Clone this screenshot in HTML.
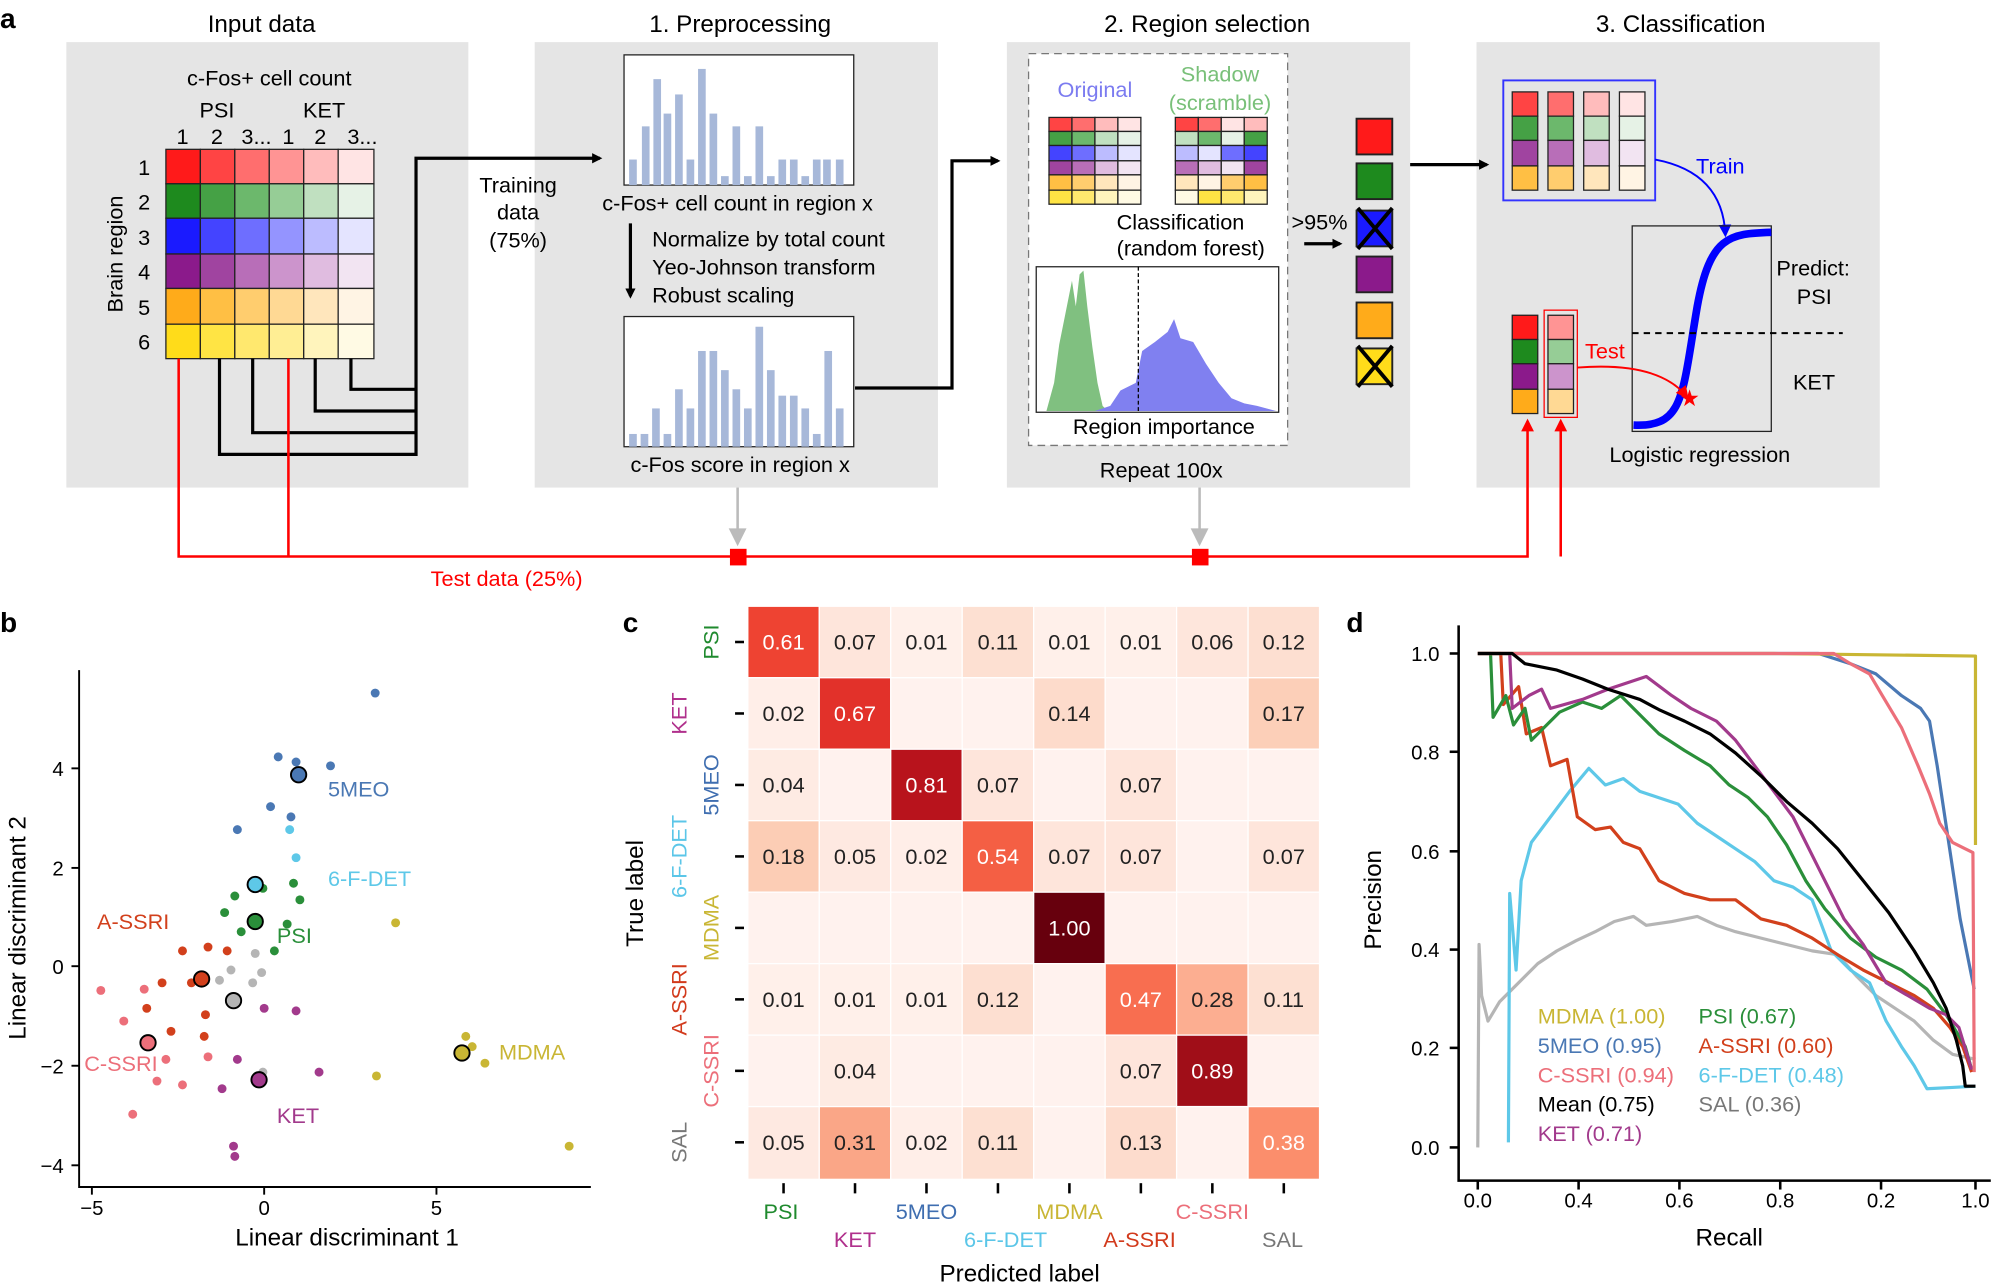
<!DOCTYPE html>
<html><head><meta charset="utf-8"><style>
html,body{margin:0;padding:0;background:#fff;}
svg{display:block;font-family:"Liberation Sans",Arial,sans-serif;}
</style></head><body>
<svg width="2001" height="1284" viewBox="0 0 1568 1006" preserveAspectRatio="none" xmlns="http://www.w3.org/2000/svg">
<defs>
<marker id="ab" markerWidth="8" markerHeight="8" refX="6" refY="4" orient="auto" markerUnits="userSpaceOnUse"><path d="M0,0 L8,4 L0,8 z" fill="#000"/></marker>
<marker id="ar" markerWidth="10" markerHeight="10" refX="8" refY="5" orient="auto" markerUnits="userSpaceOnUse"><path d="M0,0 L10,5 L0,10 z" fill="#f00"/></marker>
<marker id="abl" markerWidth="10" markerHeight="10" refX="8" refY="5" orient="auto" markerUnits="userSpaceOnUse"><path d="M0,0 L10,5 L0,10 z" fill="#00f"/></marker>
</defs>
<!-- ===== Panel a ===== -->
<text x="0" y="22" font-size="22" font-weight="bold">a</text>
<rect x="52" y="33" width="315" height="349" fill="#e5e5e5"/>
<rect x="419" y="33" width="316" height="349" fill="#e5e5e5"/>
<rect x="789" y="33" width="316" height="349" fill="#e5e5e5"/>
<rect x="1157" y="33" width="316" height="349" fill="#e5e5e5"/>
<g font-size="19" text-anchor="middle">
<text x="205" y="25">Input data</text>
<text x="580" y="25">1. Preprocessing</text>
<text x="946" y="25">2. Region selection</text>
<text x="1317" y="25">3. Classification</text>
</g>
<g font-size="17" text-anchor="middle">
<text x="211" y="67">c-Fos+ cell count</text>
<text x="170" y="92">PSI</text><text x="254" y="92">KET</text>
<text x="143" y="113">1</text><text x="170" y="113">2</text><text x="201" y="113">3...</text><text x="226" y="113">1</text><text x="251" y="113">2</text><text x="284" y="113">3...</text>
</g>
<g font-size="17" text-anchor="middle">
<text x="113" y="137">1</text><text x="113" y="164">2</text><text x="113" y="192">3</text><text x="113" y="219">4</text><text x="113" y="247">5</text><text x="113" y="274">6</text>
</g>
<text transform="translate(96,199) rotate(-90)" font-size="17" text-anchor="middle">Brain region</text>
<g stroke="#222" stroke-width="1">
<rect x="130" y="117" width="27" height="27" fill="#ff1a1a"/><rect x="157" y="117" width="27" height="27" fill="#ff4444"/><rect x="184" y="117" width="27" height="27" fill="#ff6e6e"/><rect x="211" y="117" width="27" height="27" fill="#ff9494"/><rect x="238" y="117" width="27" height="27" fill="#ffbcbc"/><rect x="265" y="117" width="28" height="27" fill="#ffe4e4"/>
<rect x="130" y="144" width="27" height="27" fill="#1e8a1e"/><rect x="157" y="144" width="27" height="27" fill="#45a145"/><rect x="184" y="144" width="27" height="27" fill="#6cb86c"/><rect x="211" y="144" width="27" height="27" fill="#96cd96"/><rect x="238" y="144" width="27" height="27" fill="#c0e0c0"/><rect x="265" y="144" width="28" height="27" fill="#e6f2e6"/>
<rect x="130" y="171" width="27" height="28" fill="#1a1aff"/><rect x="157" y="171" width="27" height="28" fill="#4444ff"/><rect x="184" y="171" width="27" height="28" fill="#6e6eff"/><rect x="211" y="171" width="27" height="28" fill="#9494ff"/><rect x="238" y="171" width="27" height="28" fill="#bcbcff"/><rect x="265" y="171" width="28" height="28" fill="#e4e4ff"/>
<rect x="130" y="199" width="27" height="27" fill="#8b1a8b"/><rect x="157" y="199" width="27" height="27" fill="#a044a0"/><rect x="184" y="199" width="27" height="27" fill="#b86eb8"/><rect x="211" y="199" width="27" height="27" fill="#cc94cc"/><rect x="238" y="199" width="27" height="27" fill="#e0bce0"/><rect x="265" y="199" width="28" height="27" fill="#f2e4f2"/>
<rect x="130" y="226" width="27" height="28" fill="#ffab1a"/><rect x="157" y="226" width="27" height="28" fill="#ffbf44"/><rect x="184" y="226" width="27" height="28" fill="#ffcd6e"/><rect x="211" y="226" width="27" height="28" fill="#ffd994"/><rect x="238" y="226" width="27" height="28" fill="#ffe6bc"/><rect x="265" y="226" width="28" height="28" fill="#fff4e4"/>
<rect x="130" y="254" width="27" height="27" fill="#ffdc1a"/><rect x="157" y="254" width="27" height="27" fill="#ffe444"/><rect x="184" y="254" width="27" height="27" fill="#ffe86e"/><rect x="211" y="254" width="27" height="27" fill="#ffee94"/><rect x="238" y="254" width="27" height="27" fill="#fff4bc"/><rect x="265" y="254" width="28" height="27" fill="#fffae4"/>
</g>
<g fill="none" stroke="#000" stroke-width="2.5">
<polyline points="172,281 172,356 326,356 326,124 470,124" marker-end="url(#ab)"/>
<polyline points="198,281 198,339 326,339"/>
<polyline points="247,281 247,322 326,322"/>
<polyline points="275,281 275,305 326,305"/>
<polyline points="670,304 746,304 746,126 782,126" marker-end="url(#ab)"/>
<line x1="494" y1="175" x2="494" y2="232" marker-end="url(#ab)"/>
<line x1="858" y1="158" x2="858" y2="197" marker-end="url(#ab)"/>
<line x1="1022" y1="191" x2="1050" y2="191" marker-end="url(#ab)"/>
<line x1="1105" y1="129" x2="1165" y2="129" marker-end="url(#ab)"/>
</g>
<g font-size="17" text-anchor="middle">
<text x="406" y="151">Training</text><text x="406" y="172">data</text><text x="406" y="194">(75%)</text>
</g>
<rect x="489" y="43" width="180" height="102" fill="#fff" stroke="#222"/>
<g fill="#a7b8d9">
<rect x="493" y="125" width="6" height="20"/><rect x="503" y="99" width="6" height="46"/><rect x="512" y="62" width="6" height="83"/><rect x="520" y="89" width="6" height="56"/><rect x="529" y="74" width="6" height="71"/><rect x="538" y="125" width="6" height="20"/><rect x="547" y="54" width="6" height="91"/><rect x="556" y="89" width="6" height="56"/><rect x="565" y="138" width="6" height="7"/><rect x="574" y="99" width="6" height="46"/><rect x="583" y="138" width="6" height="7"/><rect x="592" y="99" width="6" height="46"/><rect x="601" y="138" width="6" height="7"/><rect x="610" y="125" width="6" height="20"/><rect x="619" y="125" width="6" height="20"/><rect x="628" y="138" width="6" height="7"/><rect x="637" y="125" width="6" height="20"/><rect x="645" y="125" width="6" height="20"/><rect x="655" y="125" width="6" height="20"/>
</g>
<text x="578" y="165" font-size="17" text-anchor="middle">c-Fos+ cell count in region x</text>
<g font-size="17"><text x="511" y="193">Normalize by total count</text><text x="511" y="215">Yeo-Johnson transform</text><text x="511" y="237">Robust scaling</text></g>
<rect x="489" y="248" width="180" height="102" fill="#fff" stroke="#222"/>
<g fill="#a7b8d9">
<rect x="493" y="340" width="6" height="10"/><rect x="502" y="340" width="6" height="10"/><rect x="511" y="320" width="6" height="30"/><rect x="520" y="340" width="6" height="10"/><rect x="529" y="305" width="6" height="45"/><rect x="538" y="320" width="6" height="30"/><rect x="547" y="275" width="6" height="75"/><rect x="556" y="275" width="6" height="75"/><rect x="565" y="290" width="6" height="60"/><rect x="574" y="305" width="6" height="45"/><rect x="583" y="320" width="6" height="30"/><rect x="592" y="256" width="6" height="94"/><rect x="601" y="290" width="6" height="60"/><rect x="610" y="310" width="6" height="40"/><rect x="619" y="310" width="6" height="40"/><rect x="628" y="320" width="6" height="30"/><rect x="637" y="340" width="6" height="10"/><rect x="646" y="275" width="6" height="75"/><rect x="655" y="320" width="6" height="30"/>
</g>
<text x="580" y="370" font-size="17" text-anchor="middle">c-Fos score in region x</text>
<rect x="806" y="42" width="203" height="307" fill="#fff" stroke="#777" stroke-dasharray="6,4"/>
<text x="858" y="76" font-size="17" fill="#7b7bf0" text-anchor="middle">Original</text>
<text x="956" y="64" font-size="17" fill="#79c079" text-anchor="middle">Shadow</text>
<text x="956" y="86" font-size="17" fill="#79c079" text-anchor="middle">(scramble)</text>
<g stroke="#222" stroke-width="1">
<rect x="822" y="92" width="18" height="11" fill="#ff4444"/><rect x="840" y="92" width="18" height="11" fill="#ff6e6e"/><rect x="858" y="92" width="18" height="11" fill="#ffbcbc"/><rect x="876" y="92" width="18" height="11" fill="#ffe4e4"/>
<rect x="822" y="103" width="18" height="11" fill="#45a145"/><rect x="840" y="103" width="18" height="11" fill="#6cb86c"/><rect x="858" y="103" width="18" height="11" fill="#c0e0c0"/><rect x="876" y="103" width="18" height="11" fill="#e6f2e6"/>
<rect x="822" y="114" width="18" height="12" fill="#4444ff"/><rect x="840" y="114" width="18" height="12" fill="#6e6eff"/><rect x="858" y="114" width="18" height="12" fill="#bcbcff"/><rect x="876" y="114" width="18" height="12" fill="#e4e4ff"/>
<rect x="822" y="126" width="18" height="11" fill="#a044a0"/><rect x="840" y="126" width="18" height="11" fill="#b86eb8"/><rect x="858" y="126" width="18" height="11" fill="#e0bce0"/><rect x="876" y="126" width="18" height="11" fill="#f2e4f2"/>
<rect x="822" y="137" width="18" height="12" fill="#ffbf44"/><rect x="840" y="137" width="18" height="12" fill="#ffcd6e"/><rect x="858" y="137" width="18" height="12" fill="#ffe6bc"/><rect x="876" y="137" width="18" height="12" fill="#fff4e4"/>
<rect x="822" y="149" width="18" height="11" fill="#ffe444"/><rect x="840" y="149" width="18" height="11" fill="#ffe86e"/><rect x="858" y="149" width="18" height="11" fill="#fff4bc"/><rect x="876" y="149" width="18" height="11" fill="#fffae4"/>
<rect x="921" y="92" width="18" height="11" fill="#ff4444"/><rect x="939" y="92" width="18" height="11" fill="#ff6e6e"/><rect x="957" y="92" width="18" height="11" fill="#ffe4e4"/><rect x="975" y="92" width="18" height="11" fill="#ffbcbc"/>
<rect x="921" y="103" width="18" height="11" fill="#c0e0c0"/><rect x="939" y="103" width="18" height="11" fill="#6cb86c"/><rect x="957" y="103" width="18" height="11" fill="#e6f2e6"/><rect x="975" y="103" width="18" height="11" fill="#45a145"/>
<rect x="921" y="114" width="18" height="12" fill="#bcbcff"/><rect x="939" y="114" width="18" height="12" fill="#e4e4ff"/><rect x="957" y="114" width="18" height="12" fill="#6e6eff"/><rect x="975" y="114" width="18" height="12" fill="#4444ff"/>
<rect x="921" y="126" width="18" height="11" fill="#b86eb8"/><rect x="939" y="126" width="18" height="11" fill="#e0bce0"/><rect x="957" y="126" width="18" height="11" fill="#f2e4f2"/><rect x="975" y="126" width="18" height="11" fill="#a044a0"/>
<rect x="921" y="137" width="18" height="12" fill="#ffe6bc"/><rect x="939" y="137" width="18" height="12" fill="#fff4e4"/><rect x="957" y="137" width="18" height="12" fill="#ffcd6e"/><rect x="975" y="137" width="18" height="12" fill="#ffbf44"/>
<rect x="921" y="149" width="18" height="11" fill="#fffae4"/><rect x="939" y="149" width="18" height="11" fill="#ffe444"/><rect x="957" y="149" width="18" height="11" fill="#ffe86e"/><rect x="975" y="149" width="18" height="11" fill="#fff4bc"/>
</g>
<g font-size="17"><text x="875" y="180">Classification</text><text x="875" y="200">(random forest)</text><text x="1012" y="180">&gt;95%</text></g>
<rect x="812" y="209" width="190" height="114" fill="#fff" stroke="#222"/>
<path d="M820,322 L826,300 L830,270 L836,240 L840,220 L843,240 L846,215 L849,212 L852,240 L856,272 L860,300 L864,318 L868,322 Z" fill="#80c080"/>
<path d="M858,322 L870,318 L878,306 L890,300 L895,275 L905,268 L915,260 L920,250 L925,265 L935,268 L945,285 L955,300 L965,312 L975,316 L985,318 L1000,322 Z" fill="#8080f0"/>
<line x1="892" y1="209" x2="892" y2="323" stroke="#000" stroke-dasharray="3,2"/>
<text x="912" y="340" font-size="17" text-anchor="middle">Region importance</text>
<text x="910" y="374" font-size="17" text-anchor="middle">Repeat 100x</text>
<g stroke="#222" stroke-width="1.5">
<rect x="1063" y="93" width="28" height="28" fill="#ff1a1a"/>
<rect x="1063" y="128" width="28" height="28" fill="#1e8a1e"/>
<rect x="1063" y="165" width="28" height="28" fill="#1a1aff"/>
<rect x="1063" y="201" width="28" height="28" fill="#8b1a8b"/>
<rect x="1063" y="237" width="28" height="28" fill="#ffab1a"/>
<rect x="1063" y="273" width="28" height="28" fill="#ffdc1a"/>
</g>
<g stroke="#000" stroke-width="3"><line x1="1064" y1="163" x2="1091" y2="195"/><line x1="1091" y1="163" x2="1064" y2="195"/><line x1="1064" y1="271" x2="1091" y2="303"/><line x1="1091" y1="271" x2="1064" y2="303"/></g>
<rect x="1178" y="63" width="119" height="94" fill="none" stroke="#33f" stroke-width="1.5"/>
<g stroke="#222">
<rect x="1185" y="72" width="20" height="19" fill="#ff4444"/><rect x="1213" y="72" width="20" height="19" fill="#ff6e6e"/><rect x="1241" y="72" width="20" height="19" fill="#ffbcbc"/><rect x="1269" y="72" width="20" height="19" fill="#ffe4e4"/>
<rect x="1185" y="91" width="20" height="19" fill="#45a145"/><rect x="1213" y="91" width="20" height="19" fill="#6cb86c"/><rect x="1241" y="91" width="20" height="19" fill="#c0e0c0"/><rect x="1269" y="91" width="20" height="19" fill="#e6f2e6"/>
<rect x="1185" y="110" width="20" height="20" fill="#a044a0"/><rect x="1213" y="110" width="20" height="20" fill="#b86eb8"/><rect x="1241" y="110" width="20" height="20" fill="#e0bce0"/><rect x="1269" y="110" width="20" height="20" fill="#f2e4f2"/>
<rect x="1185" y="130" width="20" height="19" fill="#ffbf44"/><rect x="1213" y="130" width="20" height="19" fill="#ffcd6e"/><rect x="1241" y="130" width="20" height="19" fill="#ffe6bc"/><rect x="1269" y="130" width="20" height="19" fill="#fff4e4"/>
<rect x="1185" y="247" width="20" height="19" fill="#ff1a1a"/><rect x="1185" y="266" width="20" height="19" fill="#1e8a1e"/><rect x="1185" y="285" width="20" height="20" fill="#8b1a8b"/><rect x="1185" y="305" width="20" height="19" fill="#ffab1a"/>
<rect x="1213" y="247" width="20" height="19" fill="#ff9494"/><rect x="1213" y="266" width="20" height="19" fill="#96cd96"/><rect x="1213" y="285" width="20" height="20" fill="#cc94cc"/><rect x="1213" y="305" width="20" height="19" fill="#ffd994"/>
</g>
<rect x="1210" y="243" width="26" height="84" fill="none" stroke="#f00"/>
<text x="1329" y="136" font-size="17" fill="#00f">Train</text>
<path d="M1297,125 Q1350,135 1352,184" fill="none" stroke="#00f" stroke-width="1.5" marker-end="url(#abl)"/>
<rect x="1279" y="177" width="109" height="161" fill="none" stroke="#222"/>
<path d="M1280,333 C1320,335 1318,310 1330,240 C1340,185 1355,183 1388,182" fill="none" stroke="#00f" stroke-width="6"/>
<line x1="1279" y1="261" x2="1444" y2="261" stroke="#000" stroke-width="1.5" stroke-dasharray="5,4"/>
<g font-size="17"><text x="1392" y="216">Predict:</text><text x="1408" y="238">PSI</text><text x="1405" y="305">KET</text></g>
<text x="1242" y="281" font-size="17" fill="#f00">Test</text>
<path d="M1236,288 Q1300,283 1322,311" fill="none" stroke="#f00" stroke-width="1.5" marker-end="url(#ar)"/>
<text x="1324" y="318" font-size="18" fill="#f00" text-anchor="middle">★</text>
<text x="1332" y="362" font-size="17" text-anchor="middle">Logistic regression</text>
<g fill="none" stroke="#f00" stroke-width="2">
<polyline points="140,281 140,436 1197,436 1197,330" marker-end="url(#ar)"/>
<polyline points="226,281 226,436"/>
<polyline points="1223,436 1223,330" marker-end="url(#ar)"/>
</g>
<rect x="572" y="430" width="13" height="13" fill="#f00"/><rect x="934" y="430" width="13" height="13" fill="#f00"/>
<g stroke="#bbb" stroke-width="2"><line x1="578" y1="382" x2="578" y2="420"/><line x1="940" y1="382" x2="940" y2="420"/></g>
<path d="M571,414 L578,428 L585,414 Z" fill="#bbb"/><path d="M933,414 L940,428 L947,414 Z" fill="#bbb"/>
<text x="397" y="459" font-size="17" fill="#f00" text-anchor="middle">Test data (25%)</text>

<!-- ===== Panel b ===== -->
<text x="0" y="495" font-size="22" font-weight="bold">b</text>
<g stroke="#000" stroke-width="1.5" fill="none"><polyline points="62,525 62,930 463,930"/></g>
<g stroke="#000" stroke-width="1.5">
<line x1="56" y1="602" x2="62" y2="602"/><line x1="56" y1="680" x2="62" y2="680"/><line x1="56" y1="757" x2="62" y2="757"/><line x1="56" y1="835" x2="62" y2="835"/><line x1="56" y1="913" x2="62" y2="913"/>
<line x1="72" y1="930" x2="72" y2="936"/><line x1="207" y1="930" x2="207" y2="936"/><line x1="342" y1="930" x2="342" y2="936"/>
</g>
<g font-size="16" text-anchor="end"><text x="50" y="608">4</text><text x="50" y="686">2</text><text x="50" y="763">0</text><text x="50" y="841">−2</text><text x="50" y="919">−4</text></g>
<g font-size="16" text-anchor="middle"><text x="72" y="952">−5</text><text x="207" y="952">0</text><text x="342" y="952">5</text></g>
<text x="272" y="976" font-size="19" text-anchor="middle">Linear discriminant 1</text>
<text transform="translate(20,727) rotate(-90)" font-size="19" text-anchor="middle">Linear discriminant 2</text>
<g fill="#4a78b4"><circle cx="294" cy="543" r="3.5"/><circle cx="218" cy="593" r="3.5"/><circle cx="232" cy="597" r="3.5"/><circle cx="259" cy="600" r="3.5"/><circle cx="212" cy="632" r="3.5"/><circle cx="186" cy="650" r="3.5"/><circle cx="228" cy="640" r="3.5"/></g>
<g fill="#5ec8e8"><circle cx="227" cy="650" r="3.5"/><circle cx="232" cy="672" r="3.5"/></g>
<g fill="#2a8f3a"><circle cx="184" cy="702" r="3.5"/><circle cx="206" cy="696" r="3.5"/><circle cx="230" cy="692" r="3.5"/><circle cx="235" cy="705" r="3.5"/><circle cx="215" cy="745" r="3.5"/><circle cx="189" cy="730" r="3.5"/><circle cx="225" cy="724" r="3.5"/><circle cx="176" cy="715" r="3.5"/></g>
<g fill="#d2401c"><circle cx="143" cy="745" r="3.5"/><circle cx="163" cy="742" r="3.5"/><circle cx="127" cy="770" r="3.5"/><circle cx="115" cy="790" r="3.5"/><circle cx="161" cy="795" r="3.5"/><circle cx="178" cy="745" r="3.5"/><circle cx="160" cy="812" r="3.5"/><circle cx="134" cy="808" r="3.5"/><circle cx="150" cy="770" r="3.5"/></g>
<g fill="#ec6f7a"><circle cx="79" cy="776" r="3.5"/><circle cx="113" cy="775" r="3.5"/><circle cx="97" cy="800" r="3.5"/><circle cx="104" cy="873" r="3.5"/><circle cx="123" cy="847" r="3.5"/><circle cx="143" cy="850" r="3.5"/><circle cx="163" cy="828" r="3.5"/><circle cx="130" cy="830" r="3.5"/></g>
<g fill="#a23a8c"><circle cx="186" cy="830" r="3.5"/><circle cx="207" cy="790" r="3.5"/><circle cx="232" cy="792" r="3.5"/><circle cx="250" cy="840" r="3.5"/><circle cx="183" cy="898" r="3.5"/><circle cx="184" cy="906" r="3.5"/><circle cx="174" cy="853" r="3.5"/></g>
<g fill="#b5b5b5"><circle cx="172" cy="768" r="3.5"/><circle cx="200" cy="747" r="3.5"/><circle cx="198" cy="770" r="3.5"/><circle cx="205" cy="762" r="3.5"/><circle cx="181" cy="760" r="3.5"/><circle cx="206" cy="840" r="3.5"/></g>
<g fill="#c9b634"><circle cx="310" cy="723" r="3.5"/><circle cx="370" cy="820" r="3.5"/><circle cx="380" cy="833" r="3.5"/><circle cx="365" cy="812" r="3.5"/><circle cx="295" cy="843" r="3.5"/><circle cx="446" cy="898" r="3.5"/></g>
<g stroke="#000" stroke-width="1.5">
<circle cx="234" cy="607" r="6" fill="#4a78b4"/><circle cx="200" cy="693" r="6" fill="#5ec8e8"/><circle cx="200" cy="722" r="6" fill="#2a8f3a"/><circle cx="158" cy="767" r="6" fill="#d2401c"/><circle cx="116" cy="817" r="6" fill="#ec6f7a"/><circle cx="203" cy="846" r="6" fill="#a23a8c"/><circle cx="183" cy="784" r="6" fill="#b5b5b5"/><circle cx="362" cy="825" r="6" fill="#c9b634"/>
</g>
<g font-size="17">
<text x="257" y="624" fill="#4a78b4">5MEO</text><text x="257" y="694" fill="#5ec8e8">6-F-DET</text><text x="217" y="739" fill="#2a8f3a">PSI</text><text x="76" y="728" fill="#d2401c">A-SSRI</text><text x="66" y="839" fill="#ec6f7a">C-SSRI</text><text x="217" y="880" fill="#a23a8c">KET</text><text x="391" y="830" fill="#c9b634">MDMA</text>
</g>

<!-- ===== Panel c ===== -->
<text x="488" y="495" font-size="22" font-weight="bold">c</text>
<g stroke="#fff" stroke-width="1">
<rect x="586" y="475" width="56" height="56" fill="#ee4332"/><rect x="642" y="475" width="56" height="56" fill="#fee5db"/><rect x="698" y="475" width="56" height="56" fill="#fff0ea"/><rect x="754" y="475" width="56" height="56" fill="#fde0d2"/><rect x="810" y="475" width="56" height="56" fill="#fff0ea"/><rect x="866" y="475" width="56" height="56" fill="#fff0ea"/><rect x="922" y="475" width="56" height="56" fill="#fee6dc"/><rect x="978" y="475" width="56" height="56" fill="#fddfd1"/>
<rect x="586" y="531" width="56" height="56" fill="#ffeee8"/><rect x="642" y="531" width="56" height="56" fill="#e2312a"/><rect x="698" y="531" width="56" height="56" fill="#fff2ee"/><rect x="754" y="531" width="56" height="56" fill="#fff2ee"/><rect x="810" y="531" width="56" height="56" fill="#fddbcb"/><rect x="866" y="531" width="56" height="56" fill="#fff2ee"/><rect x="922" y="531" width="56" height="56" fill="#fff2ee"/><rect x="978" y="531" width="56" height="56" fill="#fccfb8"/>
<rect x="586" y="587" width="56" height="56" fill="#feebe3"/><rect x="642" y="587" width="56" height="56" fill="#fff2ee"/><rect x="698" y="587" width="56" height="56" fill="#b8131c"/><rect x="754" y="587" width="56" height="56" fill="#fee5db"/><rect x="810" y="587" width="56" height="56" fill="#fff2ee"/><rect x="866" y="587" width="56" height="56" fill="#fee5db"/><rect x="922" y="587" width="56" height="56" fill="#fff2ee"/><rect x="978" y="587" width="56" height="56" fill="#fff2ee"/>
<rect x="586" y="643" width="56" height="56" fill="#fccdb5"/><rect x="642" y="643" width="56" height="56" fill="#fee9e1"/><rect x="698" y="643" width="56" height="56" fill="#ffeee8"/><rect x="754" y="643" width="56" height="56" fill="#f45f44"/><rect x="810" y="643" width="56" height="56" fill="#fee5db"/><rect x="866" y="643" width="56" height="56" fill="#fee5db"/><rect x="922" y="643" width="56" height="56" fill="#fff2ee"/><rect x="978" y="643" width="56" height="56" fill="#fee5db"/>
<rect x="586" y="699" width="56" height="56" fill="#fff2ee"/><rect x="642" y="699" width="56" height="56" fill="#fff2ee"/><rect x="698" y="699" width="56" height="56" fill="#fff2ee"/><rect x="754" y="699" width="56" height="56" fill="#fff2ee"/><rect x="810" y="699" width="56" height="56" fill="#67000d"/><rect x="866" y="699" width="56" height="56" fill="#fff2ee"/><rect x="922" y="699" width="56" height="56" fill="#fff2ee"/><rect x="978" y="699" width="56" height="56" fill="#fff2ee"/>
<rect x="586" y="755" width="56" height="56" fill="#fff0ea"/><rect x="642" y="755" width="56" height="56" fill="#fff0ea"/><rect x="698" y="755" width="56" height="56" fill="#fff0ea"/><rect x="754" y="755" width="56" height="56" fill="#fddfd1"/><rect x="810" y="755" width="56" height="56" fill="#fff2ee"/><rect x="866" y="755" width="56" height="56" fill="#f86e50"/><rect x="922" y="755" width="56" height="56" fill="#fcae91"/><rect x="978" y="755" width="56" height="56" fill="#fde0d2"/>
<rect x="586" y="811" width="56" height="56" fill="#fff2ee"/><rect x="642" y="811" width="56" height="56" fill="#feebe3"/><rect x="698" y="811" width="56" height="56" fill="#fff2ee"/><rect x="754" y="811" width="56" height="56" fill="#fff2ee"/><rect x="810" y="811" width="56" height="56" fill="#fff2ee"/><rect x="866" y="811" width="56" height="56" fill="#fee5db"/><rect x="922" y="811" width="56" height="56" fill="#a00e18"/><rect x="978" y="811" width="56" height="56" fill="#fff2ee"/>
<rect x="586" y="867" width="56" height="57" fill="#fee9e1"/><rect x="642" y="867" width="56" height="57" fill="#faa687"/><rect x="698" y="867" width="56" height="57" fill="#ffeee8"/><rect x="754" y="867" width="56" height="57" fill="#fde0d2"/><rect x="810" y="867" width="56" height="57" fill="#fff2ee"/><rect x="866" y="867" width="56" height="57" fill="#fddccd"/><rect x="922" y="867" width="56" height="57" fill="#fff2ee"/><rect x="978" y="867" width="56" height="57" fill="#fb8e6c"/>
</g>
<g font-size="17" text-anchor="middle" fill="#222">
<text x="614" y="509" fill="#fff">0.61</text><text x="670" y="509">0.07</text><text x="726" y="509">0.01</text><text x="782" y="509">0.11</text><text x="838" y="509">0.01</text><text x="894" y="509">0.01</text><text x="950" y="509">0.06</text><text x="1006" y="509">0.12</text>
<text x="614" y="565">0.02</text><text x="670" y="565" fill="#fff">0.67</text><text x="838" y="565">0.14</text><text x="1006" y="565">0.17</text>
<text x="614" y="621">0.04</text><text x="726" y="621" fill="#fff">0.81</text><text x="782" y="621">0.07</text><text x="894" y="621">0.07</text>
<text x="614" y="677">0.18</text><text x="670" y="677">0.05</text><text x="726" y="677">0.02</text><text x="782" y="677" fill="#fff">0.54</text><text x="838" y="677">0.07</text><text x="894" y="677">0.07</text><text x="1006" y="677">0.07</text>
<text x="838" y="733" fill="#fff">1.00</text>
<text x="614" y="789">0.01</text><text x="670" y="789">0.01</text><text x="726" y="789">0.01</text><text x="782" y="789">0.12</text><text x="894" y="789" fill="#fff">0.47</text><text x="950" y="789">0.28</text><text x="1006" y="789">0.11</text>
<text x="670" y="845">0.04</text><text x="894" y="845">0.07</text><text x="950" y="845" fill="#fff">0.89</text>
<text x="614" y="901">0.05</text><text x="670" y="901">0.31</text><text x="726" y="901">0.02</text><text x="782" y="901">0.11</text><text x="894" y="901">0.13</text><text x="1006" y="901" fill="#fff">0.38</text>
</g>
<g stroke="#000" stroke-width="2">
<line x1="576" y1="503" x2="583" y2="503"/><line x1="576" y1="559" x2="583" y2="559"/><line x1="576" y1="615" x2="583" y2="615"/><line x1="576" y1="671" x2="583" y2="671"/><line x1="576" y1="727" x2="583" y2="727"/><line x1="576" y1="783" x2="583" y2="783"/><line x1="576" y1="839" x2="583" y2="839"/><line x1="576" y1="895" x2="583" y2="895"/>
<line x1="614" y1="927" x2="614" y2="935"/><line x1="670" y1="927" x2="670" y2="935"/><line x1="726" y1="927" x2="726" y2="935"/><line x1="782" y1="927" x2="782" y2="935"/><line x1="838" y1="927" x2="838" y2="935"/><line x1="894" y1="927" x2="894" y2="935"/><line x1="950" y1="927" x2="950" y2="935"/><line x1="1006" y1="927" x2="1006" y2="935"/>
</g>
<g font-size="17" text-anchor="middle">
<text transform="translate(563,503) rotate(-90)" fill="#1f8a2e">PSI</text>
<text transform="translate(538,559) rotate(-90)" fill="#b0308c">KET</text>
<text transform="translate(563,615) rotate(-90)" fill="#3f6eb0">5MEO</text>
<text transform="translate(538,671) rotate(-90)" fill="#5bc6e8">6-F-DET</text>
<text transform="translate(563,727) rotate(-90)" fill="#c9b634">MDMA</text>
<text transform="translate(538,783) rotate(-90)" fill="#d23a1c">A-SSRI</text>
<text transform="translate(563,839) rotate(-90)" fill="#ec6f7a">C-SSRI</text>
<text transform="translate(538,895) rotate(-90)" fill="#777">SAL</text>
<text x="612" y="955" fill="#1f8a2e">PSI</text><text x="670" y="977" fill="#b0308c">KET</text><text x="726" y="955" fill="#3f6eb0">5MEO</text><text x="788" y="977" fill="#5bc6e8">6-F-DET</text><text x="838" y="955" fill="#c9b634">MDMA</text><text x="893" y="977" fill="#d23a1c">A-SSRI</text><text x="950" y="955" fill="#ec6f7a">C-SSRI</text><text x="1005" y="977" fill="#777">SAL</text>
</g>
<text x="799" y="1004" font-size="19" text-anchor="middle">Predicted label</text>
<text transform="translate(504,700) rotate(-90)" font-size="19" text-anchor="middle">True label</text>

<!-- ===== Panel d ===== -->
<text x="1055" y="495" font-size="22" font-weight="bold">d</text>
<g stroke="#000" stroke-width="2" fill="none"><polyline points="1143,490 1143,925 1560,925"/></g>
<g stroke="#000" stroke-width="2">
<line x1="1136" y1="512" x2="1143" y2="512"/><line x1="1136" y1="589" x2="1143" y2="589"/><line x1="1136" y1="667" x2="1143" y2="667"/><line x1="1136" y1="744" x2="1143" y2="744"/><line x1="1136" y1="821" x2="1143" y2="821"/><line x1="1136" y1="899" x2="1143" y2="899"/>
<line x1="1158" y1="925" x2="1158" y2="932"/><line x1="1237" y1="925" x2="1237" y2="932"/><line x1="1316" y1="925" x2="1316" y2="932"/><line x1="1395" y1="925" x2="1395" y2="932"/><line x1="1474" y1="925" x2="1474" y2="932"/><line x1="1548" y1="925" x2="1548" y2="932"/>
</g>
<g font-size="16" text-anchor="end"><text x="1128" y="518">1.0</text><text x="1128" y="595">0.8</text><text x="1128" y="673">0.6</text><text x="1128" y="750">0.4</text><text x="1128" y="827">0.2</text><text x="1128" y="905">0.0</text></g>
<g font-size="16" text-anchor="middle"><text x="1158" y="946">0.0</text><text x="1237" y="946">0.4</text><text x="1316" y="946">0.6</text><text x="1395" y="946">0.8</text><text x="1474" y="946">0.2</text><text x="1548" y="946">1.0</text></g>
<text x="1355" y="976" font-size="19" text-anchor="middle">Recall</text>
<text transform="translate(1082,705) rotate(-90)" font-size="19" text-anchor="middle">Precision</text>
<g fill="none" stroke-width="2.5" stroke-linejoin="round">
<polyline stroke="#b5b5b5" points="1158,899 1159,740 1161,780 1166,800 1175,785 1190,770 1205,755 1220,745 1235,737 1250,730 1265,722 1280,718 1290,725 1310,722 1330,718 1345,725 1360,730 1380,735 1400,740 1420,745 1440,748 1455,765 1470,780 1485,790 1500,800 1515,815 1530,826 1548,830"/>
<polyline stroke="#5ec8e8" points="1182,895 1183,700 1188,760 1192,690 1200,660 1215,640 1230,620 1245,602 1258,615 1272,610 1285,620 1300,625 1315,630 1330,645 1345,655 1360,665 1375,675 1390,690 1405,695 1420,705 1435,745 1450,760 1465,770 1478,800 1490,820 1500,835 1510,853 1530,852 1548,851"/>
<polyline stroke="#d2401c" points="1158,512 1176,512 1178,552 1190,538 1196,575 1208,570 1215,600 1228,595 1236,640 1250,650 1262,648 1272,660 1285,665 1300,690 1320,700 1340,705 1360,705 1380,720 1400,725 1420,735 1440,748 1460,760 1480,770 1500,780 1515,790 1528,805 1538,820 1545,840"/>
<polyline stroke="#2a8f3a" points="1158,512 1168,512 1170,562 1180,545 1186,568 1195,555 1200,580 1210,570 1222,558 1240,550 1255,555 1270,545 1285,560 1300,575 1320,588 1340,600 1355,615 1370,625 1385,640 1400,662 1415,690 1430,712 1450,735 1470,750 1490,760 1510,775 1525,795 1540,820 1545,838"/>
<polyline stroke="#a23a8c" points="1158,512 1183,512 1185,555 1198,545 1208,540 1215,555 1240,548 1260,540 1290,530 1310,545 1325,555 1345,565 1360,580 1375,600 1390,620 1405,640 1415,660 1425,680 1435,700 1445,720 1460,740 1478,770 1495,780 1512,790 1525,795 1535,805 1545,838"/>
<polyline stroke="#4a78b4" points="1158,512 1425,512 1450,520 1470,528 1490,545 1505,555 1512,565 1518,600 1524,640 1530,680 1536,720 1542,750 1547,775"/>
<polyline stroke="#c9b634" points="1158,512 1390,512 1548,514 1548,662"/>
<polyline stroke="#ec6f7a" points="1158,512 1437,512 1450,520 1465,528 1475,545 1490,570 1503,600 1512,622 1520,645 1530,660 1540,665 1546,668 1547,840"/>
<polyline stroke="#000" points="1158,512 1185,512 1195,520 1220,525 1240,532 1260,540 1285,548 1300,556 1320,565 1340,575 1360,590 1380,608 1400,628 1420,645 1440,665 1460,690 1480,715 1500,745 1515,770 1525,790 1533,815 1538,835 1540,851 1548,851"/>
</g>
<g font-size="17">
<text x="1205" y="802" fill="#c9b634">MDMA (1.00)</text><text x="1331" y="802" fill="#2a8f3a">PSI (0.67)</text>
<text x="1205" y="825" fill="#4a78b4">5MEO (0.95)</text><text x="1331" y="825" fill="#d2401c">A-SSRI (0.60)</text>
<text x="1205" y="848" fill="#ec6f7a">C-SSRI (0.94)</text><text x="1331" y="848" fill="#5ec8e8">6-F-DET (0.48)</text>
<text x="1205" y="871" fill="#000">Mean (0.75)</text><text x="1331" y="871" fill="#777">SAL (0.36)</text>
<text x="1205" y="894" fill="#a23a8c">KET (0.71)</text>
</g>
</svg>
</body></html>
